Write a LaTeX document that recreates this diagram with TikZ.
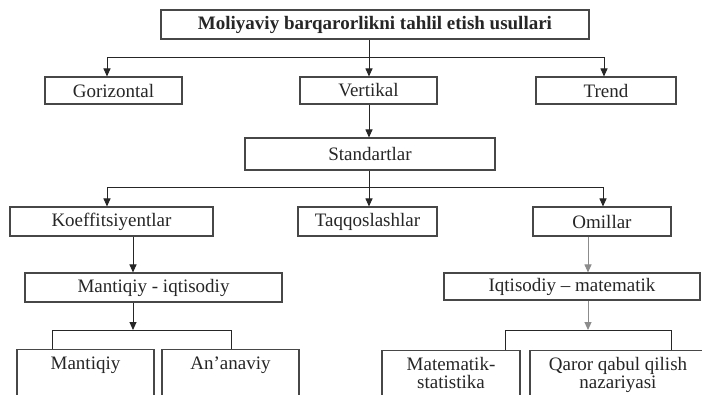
\documentclass[tikz,border=0pt]{standalone}
\usepackage{fontspec}
\setmainfont{Liberation Serif}
\usetikzlibrary{arrows.meta}
\begin{document}
\begin{tikzpicture}[x=1pt,y=-1pt,
  txtfont/.style={font=\fontsize{19}{19.5}\selectfont, text=black!85},
  box/.style={draw=black!72, line width=1.1pt, fill=white, inner sep=0pt,
              minimum height=29pt, txtfont},
  openbox/.style={draw=black!72, line width=1.1pt, fill=white, inner sep=0pt,
              minimum height=90pt, anchor=north},
  label/.style={txtfont, inner sep=0pt, anchor=north, align=center},
  conn/.style={draw=black!85, line width=1pt},
  softconn/.style={draw=black!45, line width=1pt},
  tip/.style={-{Triangle[length=8pt,width=7pt]}},
]
\fill[white] (0,0) rectangle (702,394);
\useasboundingbox (0,0) rectangle (702,394);
\clip (0,0) rectangle (702,394);

% first level
\node[box, minimum width=428pt, font=\bfseries\fontsize{19}{22}\selectfont] (top) at (375,24.5)
  {Moliyaviy barqarorlikni tahlil etish usullari};

% second level
\node[box, minimum width=137pt, minimum height=27pt] (gor)  at (113.5,90.5) {Gorizontal};
\node[box, minimum width=137pt, minimum height=27pt] (vert) at (368.5,90.5) {Vertikal};
\node[box, minimum width=140pt, minimum height=27pt] (trend) at (606,90.5) {Trend};

% standards
\node[box, minimum width=250pt, minimum height=32pt] (std) at (370,154) {Standartlar};

% third level
\node[box, minimum width=203pt] (koef) at (111.5,221.5) {Koeffitsiyentlar};
\node[box, minimum width=139pt] (taq)  at (367.5,221.5) {Taqqoslashlar};
\node[box, minimum width=138pt] (oml)  at (602,221.5) {Omillar};

% fourth level
\node[box, minimum width=257pt] (mi) at (153.5,287.5) {Mantiqiy - iqtisodiy};
\node[box, minimum width=256pt, minimum height=27pt] (im) at (572,286.5) {Iqtisodiy – matematik};

% fifth level (boxes run past the lower edge)
\node[openbox, minimum width=137pt] (mq)  at (85.5,349) {};
\node[openbox, minimum width=137pt] (an)  at (230.5,349) {};
\node[openbox, minimum width=138pt] (mat) at (451,350) {};
\node[openbox, minimum width=182pt] (qar) at (621,350) {};
\node[label, yshift=-8pt]  at (mq.north)  {Mantiqiy};
\node[label, yshift=-8pt]  at (an.north)  {An’anaviy};
\node[label, yshift=-7pt, font=\fontsize{19}{18.5}\selectfont] at (mat.north) {Matematik-\\statistika};
\node[label, yshift=-7pt, font=\fontsize{19}{18.5}\selectfont] at (618,350) {Qaror qabul qilish\\nazariyasi};

% bus coordinates
\coordinate (b1) at (369,57);
\coordinate (b1l) at (107,57);
\coordinate (b1r) at (604,57);
\coordinate (b2) at (369,187);
\coordinate (b2l) at (107,187);
\coordinate (b2r) at (603,187);
\coordinate (b3) at (133,330);
\coordinate (b3l) at (52,330);
\coordinate (b3r) at (231,330);
\coordinate (b4) at (588,330);
\coordinate (b4l) at (505,330);
\coordinate (b4r) at (671,330);

% connectors: first level
\draw[conn, tip] (b1 |- top.south) -- (b1 |- vert.north);
\draw[conn] (b1l) -- (b1r);
\draw[conn, tip] (b1l) -- (b1l |- gor.north);
\draw[conn, tip] (b1r) -- (b1r |- trend.north);
\draw[conn, tip] (b1 |- vert.south) -- (b1 |- std.north);

% connectors: standards
\draw[conn] (b2 |- std.south) -- (b2);
\draw[conn] (b2l) -- (b2r);
\draw[conn, tip] (b2l) -- (b2l |- koef.north);
\draw[conn, tip] (b2) -- (b2 |- taq.north);
\draw[conn, tip] (b2r) -- (b2r |- oml.north);

% connectors: left branch
\draw[conn, tip] (b3 |- koef.south) -- (b3 |- mi.north);
\draw[conn, tip] (b3 |- mi.south) -- (b3);
\draw[conn] (b3l |- mq.north) -- (b3l) -- (b3r) -- (b3r |- an.north);

% connectors: right branch
\draw[softconn, tip] (b4 |- oml.south) -- (b4 |- im.north);
\draw[softconn, tip] (b4 |- im.south) -- (b4);
\draw[conn] (b4l |- mat.north) -- (b4l) -- (b4r) -- (b4r |- qar.north);
\end{tikzpicture}
\end{document}
